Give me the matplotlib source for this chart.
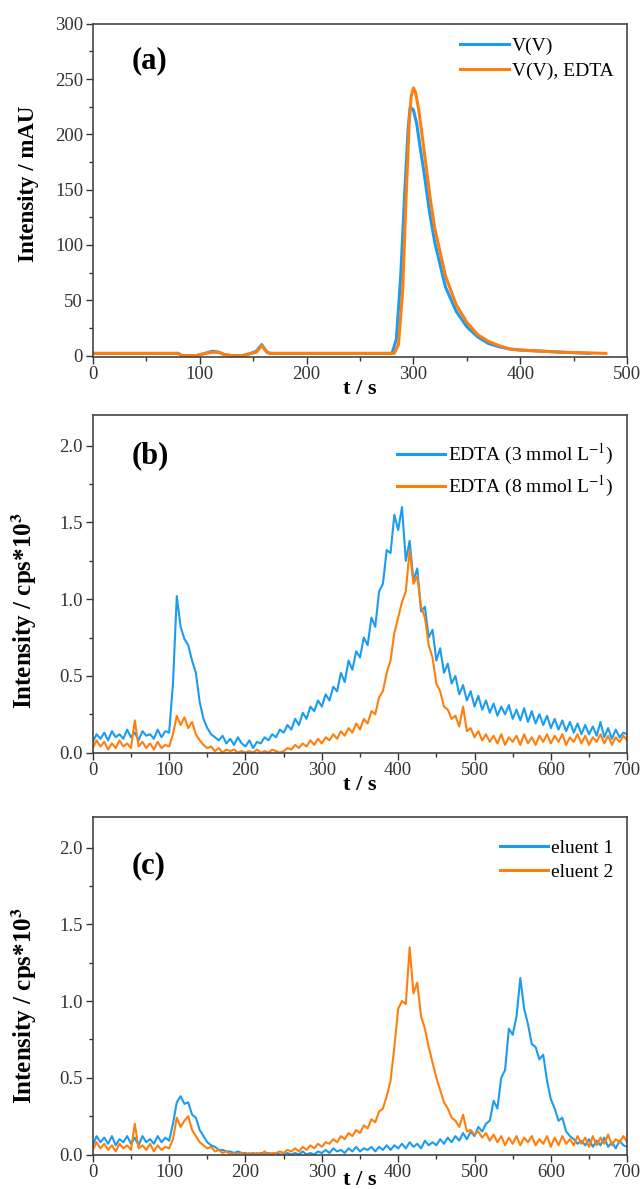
import numpy as np
import matplotlib.pyplot as plt
from matplotlib.ticker import MultipleLocator

plt.rcParams['font.family'] = ['Liberation Serif', 'DejaVu Serif']
plt.rcParams['mathtext.fontset'] = 'stix'

BLUE = '#1a9cf0'
ORANGE = '#ff7f0e'

# ---- panel (a): UV signal, V(V) with / without EDTA
t_a_blue = [0, 80, 83, 90, 97, 105, 112, 118, 123, 130,
            140, 148, 153, 158, 163, 166,
            280, 284, 288, 292, 295, 297, 300, 303, 306, 310,
            315, 320, 330, 340, 350, 360, 370, 380, 390, 400,
            420, 440, 465]
v_blue = [2, 2, 0, 0, 0, 2, 4, 3, 1, 0,
          0, 2, 4, 10, 3, 2,
          2, 15, 70, 150, 205, 225, 222, 210, 190, 165,
          130, 102, 62, 40, 26, 17, 11, 8, 6, 5,
          4, 3, 2]
t_a_orange = [0, 80, 83, 90, 97, 105, 112, 118, 123, 130,
              140, 148, 153, 158, 163, 166,
              282, 286, 290, 293, 296, 298, 300, 302, 305, 308,
              312, 316, 320, 330, 340, 350, 360, 370, 380, 390,
              400, 420, 440, 480]
v_orange = [2, 2, 0, 0, 0, 2, 3, 3, 1, 0,
            0, 2, 3, 9, 3, 2,
            2, 10, 60, 140, 210, 235, 242, 238, 222, 200,
            170, 140, 115, 72, 46, 30, 19, 13, 9, 6,
            5, 4, 3, 2]

# ---- panels (b) and (c): ICP-MS traces, sampled every 5 s (0..700 s)
t_bc = np.arange(0, 701, 5)

edta3 = [0.07, 0.12, 0.09, 0.13, 0.08, 0.14, 0.10, 0.12, 0.09, 0.15,
         0.10, 0.13, 0.08, 0.14, 0.11, 0.12, 0.09, 0.15, 0.10, 0.14,
         0.13, 0.45, 1.02, 0.82, 0.74, 0.70, 0.60, 0.52, 0.33, 0.22,
         0.16, 0.12, 0.10, 0.08, 0.11, 0.06, 0.09, 0.05, 0.10, 0.06,
         0.04, 0.08, 0.03, 0.07, 0.06, 0.10, 0.08, 0.12, 0.10, 0.15,
         0.13, 0.18, 0.15, 0.22, 0.18, 0.26, 0.22, 0.30, 0.27, 0.34,
         0.30, 0.38, 0.34, 0.43, 0.40, 0.52, 0.46, 0.60, 0.54, 0.66,
         0.62, 0.75, 0.70, 0.88, 0.82, 1.05, 1.10, 1.32, 1.30, 1.55,
         1.45, 1.60, 1.25, 1.38, 1.12, 1.20, 0.92, 0.95, 0.75, 0.80,
         0.60, 0.68, 0.52, 0.58, 0.45, 0.50, 0.38, 0.44, 0.34, 0.40,
         0.30, 0.37, 0.28, 0.34, 0.26, 0.32, 0.24, 0.30, 0.25, 0.31,
         0.22, 0.28, 0.21, 0.29, 0.20, 0.27, 0.19, 0.25, 0.18, 0.24,
         0.16, 0.22, 0.15, 0.21, 0.14, 0.20, 0.13, 0.19, 0.12, 0.18,
         0.12, 0.17, 0.11, 0.20, 0.10, 0.16, 0.09, 0.15, 0.10, 0.13,
         0.12]

edta8 = [0.03, 0.08, 0.04, 0.07, 0.02, 0.06, 0.03, 0.08, 0.04, 0.06,
         0.03, 0.21, 0.04, 0.07, 0.03, 0.06, 0.02, 0.07, 0.03, 0.05,
         0.04, 0.12, 0.24, 0.18, 0.23, 0.16, 0.20, 0.12, 0.08, 0.05,
         0.03, 0.04, 0.01, 0.03, 0.00, 0.02, 0.01, 0.02, 0.00, 0.01,
         0.00, 0.01, 0.00, 0.02, 0.00, 0.01, 0.00, 0.02, 0.01, 0.00,
         0.01, 0.03, 0.02, 0.05, 0.03, 0.06, 0.04, 0.08, 0.05, 0.09,
         0.06, 0.10, 0.08, 0.12, 0.09, 0.14, 0.11, 0.16, 0.13, 0.19,
         0.15, 0.22, 0.19, 0.27, 0.25, 0.36, 0.40, 0.52, 0.60, 0.78,
         0.88, 0.98, 1.05, 1.32, 1.10, 1.15, 0.95, 0.88, 0.70, 0.62,
         0.45, 0.40, 0.30, 0.28, 0.22, 0.24, 0.17, 0.30, 0.14, 0.16,
         0.10, 0.14, 0.08, 0.12, 0.07, 0.11, 0.06, 0.12, 0.05, 0.10,
         0.07, 0.11, 0.05, 0.12, 0.06, 0.10, 0.05, 0.11, 0.07, 0.12,
         0.06, 0.11, 0.07, 0.12, 0.05, 0.10, 0.07, 0.12, 0.06, 0.11,
         0.05, 0.10, 0.07, 0.12, 0.06, 0.11, 0.05, 0.10, 0.07, 0.11,
         0.08]

eluent1 = [0.06, 0.12, 0.08, 0.11, 0.07, 0.12, 0.06, 0.10, 0.08, 0.12,
           0.07, 0.11, 0.06, 0.12, 0.08, 0.10, 0.07, 0.12, 0.08, 0.11,
           0.09, 0.20, 0.34, 0.38, 0.33, 0.34, 0.26, 0.24, 0.16, 0.12,
           0.08, 0.06, 0.05, 0.03, 0.03, 0.02, 0.02, 0.01, 0.02, 0.01,
           0.01, 0.00, 0.01, 0.00, 0.01, 0.00, 0.01, 0.00, 0.01, 0.00,
           0.00, 0.01, 0.00, 0.01, 0.00, 0.02, 0.00, 0.01, 0.00, 0.02,
           0.01, 0.03, 0.01, 0.04, 0.02, 0.03, 0.01, 0.04, 0.02, 0.05,
           0.02, 0.04, 0.03, 0.05, 0.02, 0.05, 0.03, 0.06, 0.03, 0.06,
           0.04, 0.07, 0.04, 0.08, 0.05, 0.07, 0.04, 0.09, 0.06, 0.08,
           0.06, 0.10, 0.07, 0.11, 0.08, 0.12, 0.09, 0.14, 0.10, 0.15,
           0.12, 0.18, 0.15, 0.20, 0.22, 0.35, 0.30, 0.50, 0.55, 0.82,
           0.78, 0.90, 1.15, 0.95, 0.85, 0.72, 0.70, 0.62, 0.65, 0.48,
           0.36, 0.30, 0.22, 0.24, 0.15, 0.12, 0.10, 0.07, 0.09, 0.06,
           0.10, 0.05, 0.09, 0.06, 0.11, 0.05, 0.08, 0.04, 0.09, 0.06,
           0.05]

eluent2 = [0.03, 0.08, 0.04, 0.07, 0.03, 0.06, 0.02, 0.07, 0.04, 0.06,
           0.03, 0.20, 0.04, 0.06, 0.03, 0.07, 0.02, 0.06, 0.03, 0.05,
           0.04, 0.10, 0.24, 0.18, 0.22, 0.25, 0.16, 0.12, 0.08, 0.06,
           0.04, 0.05, 0.02, 0.03, 0.01, 0.02, 0.00, 0.01, 0.00, 0.01,
           0.00, 0.01, 0.00, 0.01, 0.00, 0.02, 0.00, 0.01, 0.01, 0.02,
           0.01, 0.03, 0.02, 0.04, 0.02, 0.05, 0.03, 0.06, 0.04, 0.07,
           0.05, 0.08, 0.07, 0.10, 0.08, 0.12, 0.10, 0.14, 0.12, 0.16,
           0.14, 0.19, 0.17, 0.23, 0.21, 0.28, 0.30, 0.38, 0.48, 0.70,
           0.95, 1.00, 0.98, 1.35, 1.05, 1.12, 0.90, 0.82, 0.70, 0.60,
           0.50, 0.42, 0.34, 0.30, 0.24, 0.22, 0.18, 0.26, 0.15, 0.16,
           0.13, 0.15, 0.11, 0.14, 0.09, 0.13, 0.08, 0.12, 0.06, 0.11,
           0.07, 0.12, 0.06, 0.11, 0.08, 0.12, 0.06, 0.10, 0.07, 0.12,
           0.05, 0.11, 0.06, 0.12, 0.07, 0.10, 0.06, 0.12, 0.07, 0.11,
           0.05, 0.12, 0.06, 0.11, 0.07, 0.13, 0.06, 0.10, 0.08, 0.12,
           0.08]

labels_a = ['V(V)', 'V(V), EDTA']
labels_b = [r'EDTA (3 mmol L$^{\mathrm{-1}}$)', r'EDTA (8 mmol L$^{\mathrm{-1}}$)']
labels_c = ['eluent 1', 'eluent 2']


def style_axes(ax, xmax, xmaj, xmin, ymax, ymaj, ymin, xpad):
    ax.set_xlim(0, xmax)
    ax.set_ylim(0, ymax)
    ax.xaxis.set_major_locator(MultipleLocator(xmaj))
    ax.xaxis.set_minor_locator(MultipleLocator(xmin))
    ax.yaxis.set_major_locator(MultipleLocator(ymaj))
    ax.yaxis.set_minor_locator(MultipleLocator(ymin))
    ax.tick_params(which='major', direction='out', length=5, width=1,
                   labelsize=13.5, colors='#333333', pad=2)
    ax.tick_params(which='minor', direction='out', length=3, width=1,
                   colors='#333333')
    for s in ax.spines.values():
        s.set_linewidth(1.2)
        s.set_color('#444444')
    ax.set_xlabel('t / s', fontsize=16, fontweight='bold', labelpad=xpad)


fig = plt.figure(figsize=(6.4, 11.89), dpi=100)
ax_a = fig.add_axes([0.145, 0.700, 0.835, 0.280])
ax_b = fig.add_axes([0.145, 0.367, 0.835, 0.284])
ax_c = fig.add_axes([0.145, 0.029, 0.835, 0.284])

# (a)
ax_a.plot(t_a_blue, v_blue, color=BLUE, lw=2.2, label=labels_a[0])
ax_a.plot(t_a_orange, v_orange, color=ORANGE, lw=2.2, label=labels_a[1])
style_axes(ax_a, 500, 100, 50, 300, 50, 25, -3)
ax_a.set_ylim(-1, 300)
ax_a.set_ylabel('Intensity / mAU', fontsize=16.5, fontweight='bold')
ax_a.yaxis.set_label_coords(-0.10, 0.52)
ax_a.text(0.073, 0.89, '(a)', transform=ax_a.transAxes, fontsize=22,
          fontweight='bold', va='center')

# (b)
ax_b.plot(t_bc, edta3, color=BLUE, lw=1.5, label=labels_b[0])
ax_b.plot(t_bc, edta8, color=ORANGE, lw=1.5, label=labels_b[1])
style_axes(ax_b, 700, 100, 50, 2.2, 0.5, 0.25, -3)
ax_b.set_ylabel(r'Intensity / cps*10$^{\mathbf{3}}$', fontsize=18,
                fontweight='bold')
ax_b.yaxis.set_label_coords(-0.10, 0.42)
ax_b.text(0.073, 0.878, '(b)', transform=ax_b.transAxes, fontsize=22,
          fontweight='bold', va='center')

# (c)
ax_c.plot(t_bc, eluent1, color=BLUE, lw=1.5, label=labels_c[0])
ax_c.plot(t_bc, eluent2, color=ORANGE, lw=1.5, label=labels_c[1])
style_axes(ax_c, 700, 100, 50, 2.2, 0.5, 0.25, -8)
ax_c.set_ylabel(r'Intensity / cps*10$^{\mathbf{3}}$', fontsize=18,
                fontweight='bold')
ax_c.yaxis.set_label_coords(-0.10, 0.44)
ax_c.text(0.073, 0.855, '(c)', transform=ax_c.transAxes, fontsize=22,
          fontweight='bold', va='center')

for ax, top in ((ax_a, 1.0), (ax_b, 0.96), (ax_c, 0.975)):
    leg = ax.legend(loc='upper right', bbox_to_anchor=(1.0, top),
                    frameon=False, fontsize=14, handlelength=2.5,
                    handletextpad=0.15, labelspacing=0.35,
                    borderaxespad=0.3)
    for line in leg.get_lines():
        line.set_linewidth(2.2)

fig.savefig('out.png', dpi=100)
